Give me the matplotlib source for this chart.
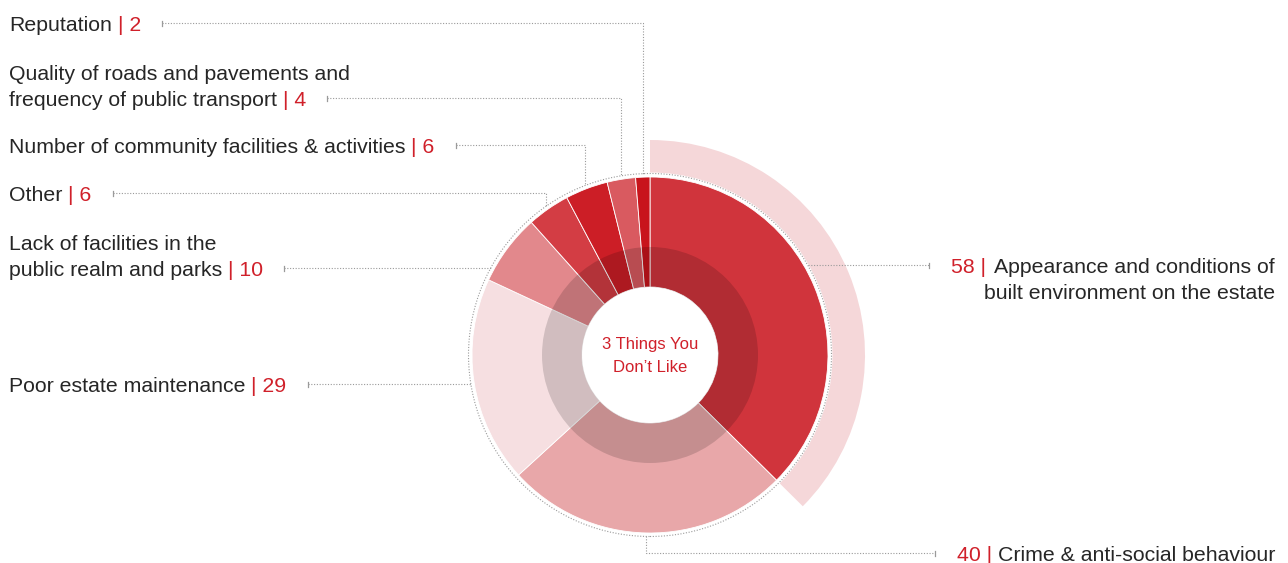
import numpy as np
import matplotlib.pyplot as plt
from matplotlib.patches import Wedge, Circle

W, H = 1288, 563

# survey answers, clockwise from the top
topics = ['Appearance and conditions of\nbuilt environment on the estate',
          'Crime & anti-social behaviour',
          'Poor estate maintenance',
          'Lack of facilities in the\npublic realm and parks',
          'Other',
          'Number of community facilities & activities',
          'Quality of roads and pavements and\nfrequency of public transport',
          'Reputation']
counts = [58, 40, 29, 10, 6, 6, 4, 2]
colors = ['#d0343c', '#e8a7a9', '#f6dfe1', '#e2888c',
          '#d33d44', '#cc1e26', '#d95a60', '#c8141c']

# baseline (px from top) of the line that carries the count
label_y = [273, 561, 392, 276, 201, 153, 106, 31]
leader = ['right', 'down', 'flat', 'flat', 'elbow', 'elbow', 'elbow', 'elbow']

GREY = '#262626'
RED = '#d0202a'
LINE = '#9a9a9a'
FONT = 'Liberation Sans'
FS = 15.3

cx, cy = 650, 355
r_hole, r_inner, r_outer, r_ring, r_band = 68, 108, 178, 181.5, 215


def Y(y):
    return H - y


fig = plt.figure(figsize=(W / 100, H / 100), dpi=100)
ax = fig.add_axes([0, 0, 1, 1])

ax.pie(counts, colors=colors, radius=r_outer, center=(cx, Y(cy)),
       startangle=90, counterclock=False,
       wedgeprops=dict(width=r_outer - r_hole, edgecolor='white', linewidth=0.6))

# darker inner ring
ax.add_patch(Wedge((cx, Y(cy)), r_inner, 0, 360, width=r_inner - r_hole,
                   facecolor='black', alpha=0.15, linewidth=0))

# highlight band behind the biggest answer
span = 360 * counts[0] / sum(counts)
ax.add_patch(Wedge((cx, Y(cy)), r_band, 90 - span, 90, width=r_band - r_ring - 1,
                   facecolor='#f5d7d9', linewidth=0))

ax.add_patch(Circle((cx, Y(cy)), r_ring, fill=False, edgecolor=LINE,
                    linestyle=(0, (1, 1.5)), linewidth=0.8))

ax.text(cx, Y(345), '3 Things You', color=RED, fontsize=12, family=FONT,
        ha='center', va='center')
ax.text(cx, Y(368), 'Don\u2019t Like', color=RED, fontsize=12, family=FONT,
        ha='center', va='center')

ax.set_xlim(0, W)
ax.set_ylim(0, H)
ax.set_aspect('equal')
ax.axis('off')

renderer = fig.canvas.get_renderer()
inv = ax.transData.inverted()


def right_edge(t):
    bb = t.get_window_extent(renderer)
    return inv.transform((bb.x1, bb.y0))[0]


def left_edge(t):
    bb = t.get_window_extent(renderer)
    return inv.transform((bb.x0, bb.y0))[0]


def dotted(xs, ys):
    ax.plot(xs, [Y(v) for v in ys], color=LINE, linestyle=(0, (1, 1.5)),
            linewidth=0.8, solid_capstyle='butt')


def tick(x, y):
    ax.plot([x, x], [Y(y) - 2.5, Y(y) + 2.5], color=LINE, linewidth=0.9)


# segment mid angles, clockwise from 12 o'clock
edges = np.cumsum([0] + counts) / sum(counts) * 360
mids = (edges[:-1] + edges[1:]) / 2

for name, n, yb, kind, mid in zip(topics, counts, label_y, leader, mids):
    lines = name.split('\n')
    yl = yb - 8  # leader sits at mid cap height of the counted line
    if kind in ('flat', 'elbow'):
        for i, ln in enumerate(lines[:-1]):
            ax.text(9, Y(yb - 26 * (len(lines) - 1 - i)), ln, color=GREY,
                    fontsize=FS, family=FONT, va='baseline', ha='left')
        t = ax.text(9, Y(yb), lines[-1], color=GREY, fontsize=FS,
                    family=FONT, va='baseline', ha='left')
        t2 = ax.text(right_edge(t) + 6, Y(yb), f'| {n}', color=RED,
                     fontsize=FS, family=FONT, va='baseline', ha='left')
        x0 = right_edge(t2) + 21
        tick(x0, yl)
        if kind == 'flat':
            xe = cx - np.sqrt(r_ring ** 2 - (yl - cy) ** 2)
            dotted([x0, xe], [yl, yl])
        else:
            xe = cx + r_ring * np.sin(np.radians(mid))
            ye = cy - np.sqrt(r_ring ** 2 - (xe - cx) ** 2)
            dotted([x0, xe, xe], [yl, yl, ye])
    else:
        t = None
        for i, ln in enumerate(lines):
            tt = ax.text(1275, Y(yb + 26 * i), ln, color=GREY, fontsize=FS,
                         family=FONT, va='baseline', ha='right')
            if i == 0:
                t = tt
        gap = 8 if kind == 'right' else 5
        t2 = ax.text(left_edge(t) - gap, Y(yb), f'{n} |', color=RED,
                     fontsize=FS, family=FONT, va='baseline', ha='right')
        x1 = left_edge(t2) - 22
        tick(x1, yl)
        if kind == 'right':
            xs = cx + np.sqrt(r_ring ** 2 - (yl - cy) ** 2)
            dotted([xs, x1], [yl, yl])
        else:
            xs = cx + r_ring * np.sin(np.radians(mid))
            ys = cy + np.sqrt(r_ring ** 2 - (xs - cx) ** 2)
            dotted([xs, xs, x1], [ys, yl, yl])

fig.savefig('out.png', dpi=100)
